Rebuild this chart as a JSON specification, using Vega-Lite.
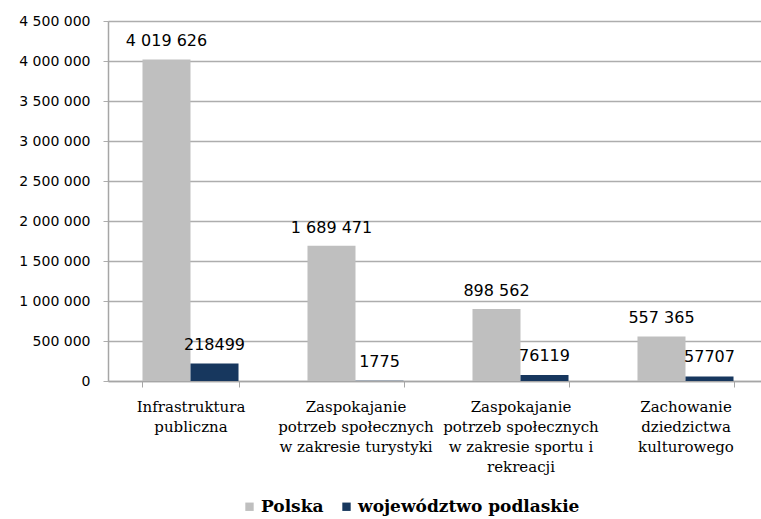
{
  "$schema": "https://vega.github.io/schema/vega-lite/v6.json",
  "width": 660,
  "height": 360,
  "autosize": {"type": "none"},
  "padding": {"left": 108, "top": 21, "right": 0, "bottom": 140},
  "config": {
    "locale": {"number": {"decimal": ",", "thousands": " ", "grouping": [3], "currency": ["", " zł"]}},
    "view": {"stroke": null}
  },
  "data": {
    "values": [
      {"kategoria": "Infrastruktura publiczna", "seria": "Polska", "wartosc": 4019626},
      {"kategoria": "Infrastruktura publiczna", "seria": "województwo podlaskie", "wartosc": 218499},
      {"kategoria": "Zaspokajanie potrzeb społecznych w zakresie turystyki", "seria": "Polska", "wartosc": 1689471},
      {"kategoria": "Zaspokajanie potrzeb społecznych w zakresie turystyki", "seria": "województwo podlaskie", "wartosc": 1775},
      {"kategoria": "Zaspokajanie potrzeb społecznych w zakresie sportu i rekreacji", "seria": "Polska", "wartosc": 898562},
      {"kategoria": "Zaspokajanie potrzeb społecznych w zakresie sportu i rekreacji", "seria": "województwo podlaskie", "wartosc": 76119},
      {"kategoria": "Zachowanie dziedzictwa kulturowego", "seria": "Polska", "wartosc": 557365},
      {"kategoria": "Zachowanie dziedzictwa kulturowego", "seria": "województwo podlaskie", "wartosc": 57707}
    ]
  },
  "encoding": {
    "x": {
      "field": "kategoria",
      "type": "nominal",
      "sort": null,
      "title": null,
      "scale": {"paddingInner": 0.418, "paddingOuter": 0.209},
      "axis": {
        "labelAngle": 0,
        "labelFont": "DejaVu Serif",
        "labelFontSize": 15,
        "labelColor": "#000000",
        "labelLineHeight": 20,
        "labelPadding": 12,
        "labelLimit": 300,
        "tickBand": "extent",
        "tickSize": 6,
        "tickColor": "#A6A6A6",
        "domainColor": "#A6A6A6",
        "domainWidth": 1.5,
        "labelExpr": "datum.label == 'Infrastruktura publiczna' ? ['Infrastruktura', 'publiczna'] : datum.label == 'Zaspokajanie potrzeb społecznych w zakresie turystyki' ? ['Zaspokajanie', 'potrzeb społecznych', 'w zakresie turystyki'] : datum.label == 'Zaspokajanie potrzeb społecznych w zakresie sportu i rekreacji' ? ['Zaspokajanie', 'potrzeb społecznych', 'w zakresie sportu i', 'rekreacji'] : datum.label == 'Zachowanie dziedzictwa kulturowego' ? ['Zachowanie', 'dziedzictwa', 'kulturowego'] : ''"
      }
    },
    "xOffset": {"field": "seria", "type": "nominal", "sort": null, "scale": {"paddingInner": 0, "paddingOuter": 0}},
    "y": {
      "field": "wartosc",
      "type": "quantitative",
      "title": null,
      "scale": {"domain": [0, 4500000], "nice": false},
      "axis": {
        "values": [0, 500000, 1000000, 1500000, 2000000, 2500000, 3000000, 3500000, 4000000, 4500000],
        "format": ",d",
        "labelFont": "DejaVu Sans",
        "labelFontSize": 14,
        "labelColor": "#000000",
        "labelPadding": 13,
        "tickSize": 5,
        "tickColor": "#ADADAD",
        "domainColor": "#A6A6A6",
        "domainWidth": 1.5,
        "gridColor": "#ADADAD",
        "gridWidth": 1.5
      }
    }
  },
  "layer": [
    {
      "mark": {"type": "bar"},
      "encoding": {
        "color": {
          "field": "seria",
          "type": "nominal",
          "sort": null,
          "title": null,
          "scale": {"domain": ["Polska", "województwo podlaskie"], "range": ["#BFBFBF", "#17375E"]},
          "legend": {
            "orient": "none",
            "direction": "horizontal",
            "legendX": 133,
            "legendY": 477,
            "symbolType": "square",
            "symbolSize": 70,
            "symbolStrokeWidth": 0,
            "labelFont": "DejaVu Serif",
            "labelFontSize": 17,
            "labelFontWeight": "bold",
            "labelColor": "#000000",
            "labelOffset": 3,
            "labelLimit": 400,
            "columnPadding": 14
          }
        }
      }
    },
    {
      "transform": [{"filter": "datum.seria == 'Polska'"}],
      "mark": {"type": "text", "baseline": "alphabetic", "dy": -13, "font": "DejaVu Sans", "fontSize": 16, "color": "#000000"},
      "encoding": {"text": {"field": "wartosc", "type": "quantitative", "format": ",d"}}
    },
    {
      "transform": [{"filter": "datum.seria != 'Polska'"}],
      "mark": {"type": "text", "baseline": "alphabetic", "dy": -14, "font": "DejaVu Sans", "fontSize": 16, "color": "#000000"},
      "encoding": {"text": {"field": "wartosc", "type": "quantitative", "format": "d"}}
    }
  ]
}
